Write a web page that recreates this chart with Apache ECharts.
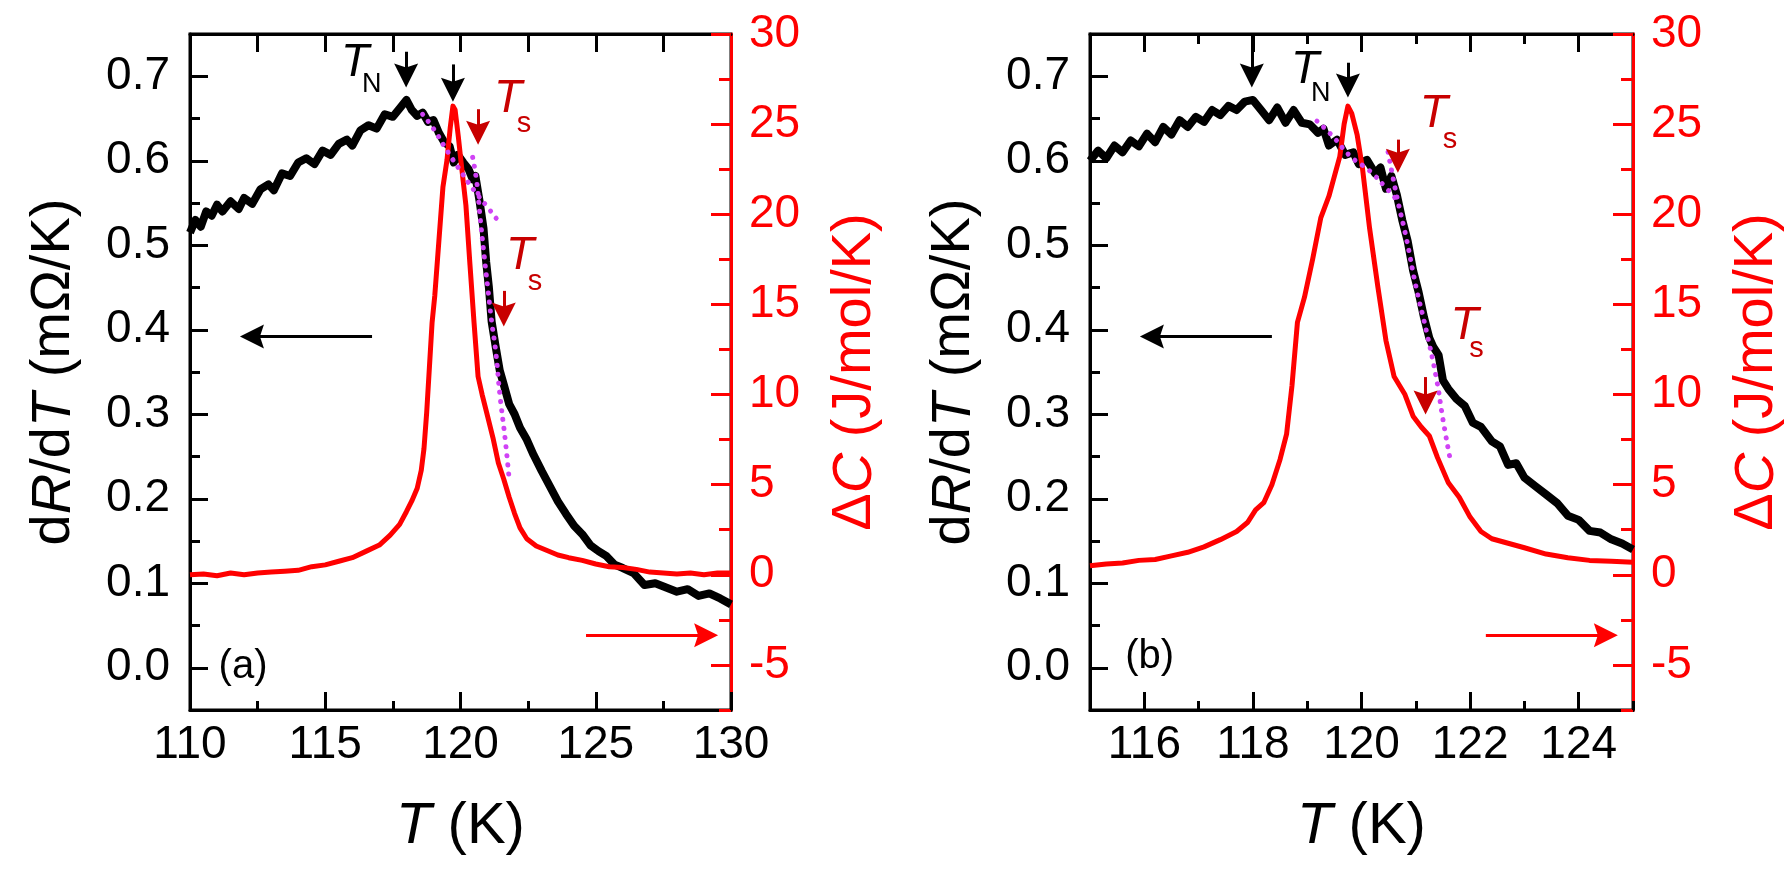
<!DOCTYPE html>
<html>
<head>
<meta charset="utf-8">
<script src="https://cdn.jsdelivr.net/npm/echarts@6/dist/echarts.min.js"></script>
<style>
  html, body { margin: 0; padding: 0; background: #fff; }
  #chart { width: 1792px; height: 873px; }
</style>
</head>
<body>
<div id="chart"></div>
<script>
// panel (a): dR/dT (left axis) and ΔC (right axis) vs T
const dRdT_a = [
  [110.0,0.515],[110.2,0.53],[110.4,0.522],[110.6,0.54],[110.8,0.535],[111.0,0.548],[111.2,0.54],[111.5,0.552],
  [111.8,0.543],[112.0,0.556],[112.3,0.549],[112.6,0.566],[112.9,0.572],[113.1,0.565],[113.4,0.585],[113.7,0.582],
  [114.0,0.598],[114.3,0.603],[114.6,0.596],[114.9,0.612],[115.2,0.607],[115.5,0.62],[115.8,0.625],[116.0,0.618],
  [116.3,0.636],[116.6,0.642],[116.9,0.638],[117.2,0.655],[117.5,0.652],[117.8,0.664],[118.0,0.672],[118.2,0.66],
  [118.4,0.653],[118.6,0.657],[118.8,0.646],[119.0,0.648],[119.2,0.633],[119.4,0.622],[119.6,0.617],[119.75,0.598],
  [119.9,0.607],[120.1,0.598],[120.3,0.59],[120.45,0.578],[120.55,0.582],[120.7,0.553],[120.85,0.52],[120.95,0.48],
  [121.05,0.45],[121.15,0.41],[121.3,0.38],[121.45,0.352],[121.6,0.335],[121.8,0.312],[122.0,0.3],[122.2,0.284],
  [122.45,0.27],[122.7,0.252],[123.0,0.233],[123.3,0.215],[123.6,0.197],[123.9,0.182],[124.2,0.168],[124.5,0.158],
  [124.8,0.145],[125.1,0.138],[125.4,0.132],[125.7,0.122],[126.0,0.118],[126.4,0.112],[126.8,0.098],[127.2,0.1],
  [127.6,0.095],[128.0,0.09],[128.4,0.093],[128.8,0.085],[129.2,0.088],[129.6,0.082],[130.0,0.075]
];
const dC_a = [
  [110.0,0.0],[110.5,0.05],[111.0,-0.05],[111.5,0.1],[112.0,0.0],[112.5,0.1],[113.0,0.15],[113.5,0.2],[114.0,0.25],
  [114.5,0.45],[115.0,0.55],[115.5,0.75],[116.0,0.95],[116.5,1.3],[117.0,1.65],[117.4,2.2],[117.75,2.8],[118.0,3.5],
  [118.2,4.1],[118.4,4.8],[118.55,5.8],[118.65,7.0],[118.75,9.0],[118.85,11.5],[118.95,14.0],[119.05,15.5],[119.2,18.5],
  [119.35,21.5],[119.5,23.0],[119.62,24.8],[119.72,26.0],[119.8,25.8],[119.92,24.3],[120.05,22.5],[120.2,20.5],
  [120.35,17.2],[120.5,14.0],[120.65,11.0],[120.8,10.0],[121.0,8.8],[121.2,7.6],[121.4,6.2],[121.6,5.3],[121.8,4.3],
  [122.0,3.4],[122.2,2.6],[122.45,2.0],[122.8,1.6],[123.2,1.35],[123.6,1.1],[124.0,0.95],[124.5,0.8],[125.0,0.6],
  [125.5,0.45],[126.0,0.4],[126.5,0.3],[127.0,0.15],[127.5,0.1],[128.0,0.05],[128.5,0.1],[129.0,0.0],[129.5,0.1],[130.0,0.1]
];
const fit1_a = [[118.6,0.655],[119.0,0.638],[119.5,0.612],[120.0,0.588],[120.5,0.565],[121.0,0.545],[121.46,0.526]];
const fit2_a = [[120.45,0.604],[120.6,0.575],[120.72,0.535],[120.85,0.495],[121.0,0.452],[121.15,0.41],[121.3,0.375],[121.46,0.322],[121.65,0.271],[121.8,0.223]];

// panel (b)
const dRdT_b = [
  [115.0,0.6],[115.15,0.612],[115.3,0.603],[115.45,0.618],[115.6,0.61],[115.75,0.624],[115.9,0.617],[116.05,0.632],
  [116.2,0.622],[116.35,0.64],[116.5,0.631],[116.65,0.648],[116.8,0.64],[116.95,0.652],[117.1,0.646],[117.25,0.66],
  [117.4,0.654],[117.55,0.665],[117.7,0.66],[117.85,0.67],[118.0,0.672],[118.15,0.66],[118.3,0.648],[118.45,0.663],
  [118.6,0.645],[118.75,0.66],[118.9,0.645],[119.05,0.643],[119.2,0.633],[119.3,0.638],[119.4,0.618],[119.55,0.625],
  [119.7,0.607],[119.85,0.61],[119.95,0.596],[120.1,0.601],[120.25,0.585],[120.35,0.592],[120.45,0.567],[120.55,0.582],
  [120.65,0.56],[120.75,0.53],[120.85,0.505],[120.95,0.47],[121.05,0.445],[121.15,0.415],[121.25,0.39],[121.32,0.38],
  [121.42,0.37],[121.5,0.34],[121.6,0.33],[121.75,0.318],[121.9,0.31],[122.05,0.29],[122.2,0.285],[122.4,0.268],
  [122.55,0.262],[122.7,0.24],[122.85,0.242],[123.0,0.225],[123.2,0.215],[123.4,0.205],[123.6,0.195],[123.8,0.18],
  [124.0,0.175],[124.2,0.162],[124.4,0.16],[124.6,0.152],[124.8,0.147],[125.0,0.14]
];
const dC_b = [
  [115.0,0.5],[115.3,0.6],[115.6,0.65],[115.9,0.8],[116.2,0.85],[116.5,1.05],[116.8,1.25],[117.1,1.55],[117.4,1.95],
  [117.7,2.4],[117.9,2.9],[118.05,3.6],[118.2,4.0],[118.35,5.0],[118.5,6.4],[118.62,7.8],[118.72,10.5],[118.82,14.0],
  [118.95,15.4],[119.1,17.5],[119.25,19.8],[119.4,21.0],[119.5,22.1],[119.6,23.2],[119.68,25.0],[119.75,26.0],
  [119.82,25.6],[119.92,24.4],[120.02,22.5],[120.15,19.2],[120.3,16.0],[120.45,13.0],[120.6,11.0],[120.8,10.0],
  [120.95,8.8],[121.1,8.2],[121.25,7.7],[121.4,6.5],[121.6,5.1],[121.8,4.3],[122.0,3.2],[122.2,2.4],[122.4,2.0],
  [122.7,1.75],[123.0,1.5],[123.4,1.15],[123.8,0.95],[124.2,0.8],[124.6,0.75],[125.0,0.7]
];
const fit1_b = [[119.18,0.647],[119.47,0.629],[119.8,0.605],[120.15,0.588],[120.45,0.568],[120.7,0.55]];
const fit2_b = [[120.49,0.61],[120.65,0.558],[120.83,0.507],[121.0,0.452],[121.2,0.397],[121.38,0.342],[121.5,0.294],[121.62,0.251]];

// tick values
const leftTicks = [0, 0.1, 0.2, 0.3, 0.4, 0.5, 0.6, 0.7];
const rightTicks = [-5, 0, 5, 10, 15, 20, 25, 30];
const xTicks_a = [110, 115, 120, 125, 130];
const xTicks_b = [116, 118, 120, 122, 124];

// annotations, in data units: [x, yTop, yEnd]  (arrow head sits on yEnd)
const downArrowsBlack_a = [[117.99, 0.729, 0.701], [119.72, 0.714, 0.684]];
const downArrowsRed_a = [[120.65, 0.661, 0.633], [121.6, 0.446, 0.418]];
const downArrowsBlack_b = [[117.98, 0.749, 0.701], [119.75, 0.716, 0.689]];
const downArrowsRed_b = [[120.67, 0.625, 0.600], [121.18, 0.344, 0.314]];
// horizontal arrows: [xStart, xEnd, y]
const leftArrow_a = [116.73, 112.29, 0.392];
const rightArrow_a = [124.64, 129.08, -3.35];
const leftArrow_b = [118.35, 116.14, 0.392];
const rightArrow_b = [122.29, 124.5, -3.35];
// text labels: [x, y, text, size, italic, color]
const texts_a = [
  [116.10, 0.716, 'T', 46, true, '#000'], [116.72, 0.690, 'N', 27, false, '#000'],
  [121.76, 0.673, 'T', 46, true, '#c80000'], [122.35, 0.643, 's', 29, false, '#c80000'],
  [122.20, 0.487, 'T', 46, true, '#c80000'], [122.75, 0.457, 's', 29, false, '#c80000'],
  [111.96, 0.001, '(a)', 40, false, '#000']
];
const texts_b = [
  [118.96, 0.707, 'T', 46, true, '#000'], [119.25, 0.680, 'N', 27, false, '#000'],
  [121.33, 0.655, 'T', 46, true, '#c80000'], [121.63, 0.625, 's', 29, false, '#c80000'],
  [121.90, 0.404, 'T', 46, true, '#c80000'], [122.12, 0.377, 's', 29, false, '#c80000'],
  [116.10, 0.013, '(b)', 40, false, '#000']
];

const FONT = "'Liberation Sans', Arial, sans-serif";
const RED = '#ff0000';
const DARKRED = '#c80000';
const MAGENTA = '#d042f5';
const ARROW = 'path://M5,0L10,18L5,15L0,18Z';

function fmtTick(v, dec) { return v.toFixed(dec); }

function bottomAxes(gi, min, max, majors, minorStep) {
  return [
    {
      type: 'value', gridIndex: gi, position: 'bottom', min, max,
      name: '{i|T}{n| (K)}', nameLocation: 'middle', nameGap: 88,
      nameTextStyle: { rich: {
        i: { fontFamily: FONT, fontSize: 58, fontStyle: 'italic', color: '#000' },
        n: { fontFamily: FONT, fontSize: 58, color: '#000' } } },
      axisLine: { show: true, onZero: false, lineStyle: { color: '#000', width: 3 } },
      axisTick: { show: true, inside: true, length: 18, lineStyle: { width: 3, color: '#000' }, customValues: majors },
      axisLabel: { show: true, customValues: majors, fontFamily: FONT, fontSize: 46, color: '#000', margin: 12,
        formatter: v => fmtTick(v, 0) },
      splitLine: { show: false }
    },
    {
      type: 'value', gridIndex: gi, position: 'bottom', min, max, interval: minorStep,
      axisLine: { show: false, onZero: false },
      axisTick: { show: true, inside: true, length: 9, lineStyle: { width: 3, color: '#000' } },
      axisLabel: { show: false }, splitLine: { show: false }
    }
  ];
}

function topAxes(gi, min, max, longVals, shortVals) {
  const axes = [{
    type: 'value', gridIndex: gi, position: 'top', min, max,
    axisLine: { show: true, onZero: false, lineStyle: { color: '#000', width: 3 } },
    axisTick: { show: true, inside: true, length: 18, lineStyle: { width: 3, color: '#000' }, customValues: longVals },
    axisLabel: { show: false }, splitLine: { show: false }
  }];
  if (shortVals) {
    axes.push({
      type: 'value', gridIndex: gi, position: 'top', min, max,
      axisLine: { show: false, onZero: false },
      axisTick: { show: true, inside: true, length: 10, lineStyle: { width: 3, color: '#000' }, customValues: shortVals },
      axisLabel: { show: false }, splitLine: { show: false }
    });
  }
  return axes;
}

function leftAxes(gi) {
  return [
    {
      type: 'value', gridIndex: gi, position: 'left', min: -0.05, max: 0.75,
      name: '{n|d}{i|R}{n|/d}{i|T}{n| (mΩ/K)}', nameLocation: 'middle', nameGap: 108, nameRotate: 90,
      nameTextStyle: { rich: {
        i: { fontFamily: FONT, fontSize: 56, fontStyle: 'italic', color: '#000' },
        n: { fontFamily: FONT, fontSize: 56, color: '#000' } } },
      axisLine: { show: true, onZero: false, lineStyle: { color: '#000', width: 3 } },
      axisTick: { show: true, inside: true, length: 18, lineStyle: { width: 3, color: '#000' }, customValues: leftTicks },
      axisLabel: { show: true, customValues: leftTicks, fontFamily: FONT, fontSize: 46, color: '#000', margin: 20,
        formatter: v => fmtTick(v, 1) },
      splitLine: { show: false }
    },
    {
      type: 'value', gridIndex: gi, position: 'left', min: -0.05, max: 0.75, interval: 0.05,
      axisLine: { show: false, onZero: false },
      axisTick: { show: true, inside: true, length: 10, lineStyle: { width: 3, color: '#000' } },
      axisLabel: { show: false }, splitLine: { show: false }
    }
  ];
}

function rightAxes(gi) {
  return [
    {
      type: 'value', gridIndex: gi, position: 'right', min: -7.5, max: 30,
      name: '{n|Δ}{i|C}{n| (J/mol/K)}', nameLocation: 'middle', nameGap: 96, nameRotate: 90,
      nameTextStyle: { rich: {
        i: { fontFamily: FONT, fontSize: 56, fontStyle: 'italic', color: RED },
        n: { fontFamily: FONT, fontSize: 56, color: RED } } },
      axisLine: { show: true, onZero: false, lineStyle: { color: RED, width: 3 } },
      axisTick: { show: true, inside: true, length: 20, lineStyle: { width: 3, color: RED }, customValues: rightTicks },
      axisLabel: { show: true, customValues: rightTicks, fontFamily: FONT, fontSize: 46, color: RED, margin: 18,
        formatter: v => fmtTick(v, 0) },
      splitLine: { show: false }
    },
    {
      type: 'value', gridIndex: gi, position: 'right', min: -7.5, max: 30, interval: 2.5,
      axisLine: { show: false, onZero: false },
      axisTick: { show: true, inside: true, length: 12, lineStyle: { width: 3, color: RED } },
      axisLabel: { show: false }, splitLine: { show: false }
    }
  ];
}

function arrowData(list) {
  return list.map(a => [{ coord: [a[0], a[1]] }, { coord: [a[0], a[2]] }]);
}

function textPoints(list) {
  return list.map(t => ({
    coord: [t[0], t[1]], symbolSize: 0,
    label: { show: true, position: 'inside', formatter: t[2], fontFamily: FONT, fontSize: t[3],
      fontStyle: t[4] ? 'italic' : 'normal', color: t[5] }
  }));
}

function panelSeries(xi, yl, yr, black, red, fitA, fitB, blackArrows, redArrows, lArrow, rArrow, texts) {
  const arrowLine = (color) => ({
    silent: true, animation: false, symbol: ['none', ARROW], symbolSize: 24,
    lineStyle: { color, width: 3, type: 'solid' }, itemStyle: { color },
    label: { show: false }, emphasis: { disabled: true }
  });
  const dotted = { color: MAGENTA, width: 5, type: [0.1, 9], cap: 'round' };
  return [
    {
      type: 'line', xAxisIndex: xi, yAxisIndex: yl, data: black, showSymbol: false, z: 2,
      lineStyle: { color: '#000', width: 8, join: 'round' },
      markLine: Object.assign(arrowLine('#000'), {
        data: arrowData(blackArrows).concat([[{ coord: [lArrow[0], lArrow[2]] }, { coord: [lArrow[1], lArrow[2]] }]])
      }),
      markPoint: { silent: true, animation: false, data: textPoints(texts) }
    },
    {
      type: 'line', xAxisIndex: xi, yAxisIndex: yr, data: red, showSymbol: false, z: 3,
      lineStyle: { color: RED, width: 5, join: 'round' },
      markLine: Object.assign(arrowLine(RED), {
        data: [[{ coord: [rArrow[0], rArrow[2]] }, { coord: [rArrow[1], rArrow[2]] }]]
      })
    },
    {
      type: 'line', xAxisIndex: xi, yAxisIndex: yl, data: fitA, showSymbol: false, smooth: true, z: 4,
      lineStyle: dotted
    },
    {
      type: 'line', xAxisIndex: xi, yAxisIndex: yl, data: fitB, showSymbol: false, smooth: true, z: 4,
      lineStyle: dotted,
      markLine: Object.assign(arrowLine(DARKRED), { data: arrowData(redArrows) })
    }
  ];
}

const chart = echarts.init(document.getElementById('chart'));

const xAxes = []
  .concat(bottomAxes(0, 110, 130, xTicks_a, 2.5))                              // 0,1
  .concat(topAxes(0, 110, 130, [112.5, 115, 117.5, 120, 122.5, 125, 127.5]))  // 2
  .concat(bottomAxes(1, 115, 125, xTicks_b, 1))                                // 3,4
  .concat(topAxes(1, 115, 125, xTicks_b, [117, 119, 121, 123]));               // 5,6

const yAxes = []
  .concat(leftAxes(0))   // 0,1
  .concat(rightAxes(0))  // 2,3
  .concat(leftAxes(1))   // 4,5
  .concat(rightAxes(1)); // 6,7

chart.setOption({
  animation: false,
  backgroundColor: '#fff',
  grid: [
    { left: 190, top: 34, width: 541, height: 676, show: true, borderColor: '#000', borderWidth: 3 },
    { left: 1090, top: 34, width: 543, height: 676, show: true, borderColor: '#000', borderWidth: 3 }
  ],
  xAxis: xAxes,
  yAxis: yAxes,
  series: []
    .concat(panelSeries(0, 0, 2, dRdT_a, dC_a, fit1_a, fit2_a, downArrowsBlack_a, downArrowsRed_a, leftArrow_a, rightArrow_a, texts_a))
    .concat(panelSeries(3, 4, 6, dRdT_b, dC_b, fit1_b, fit2_b, downArrowsBlack_b, downArrowsRed_b, leftArrow_b, rightArrow_b, texts_b))
});
</script>
</body>
</html>
